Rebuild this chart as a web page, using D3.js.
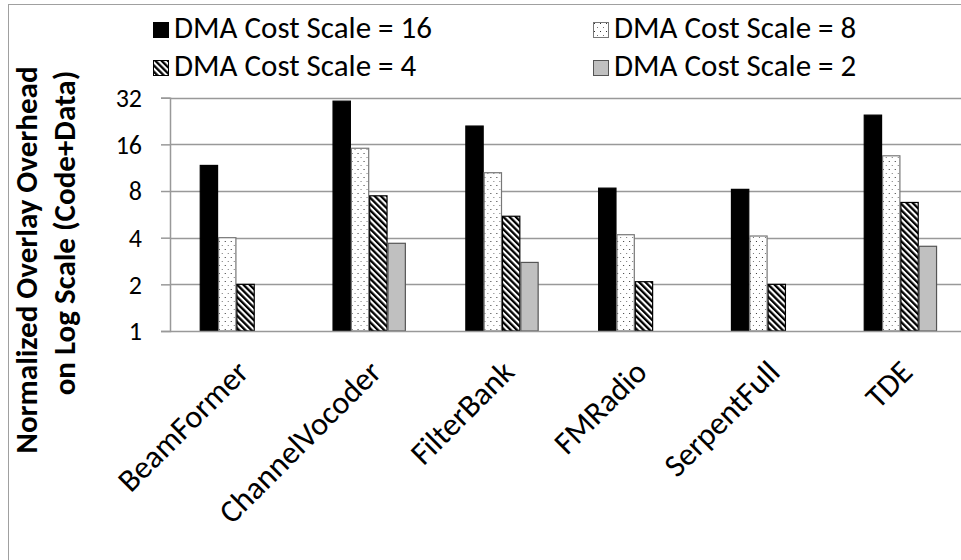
<!DOCTYPE html>
<html>
<head>
<meta charset="utf-8">
<script src="https://cdn.jsdelivr.net/npm/d3@7"></script>
<style>
  body { margin: 0; background: #fff; }
  text { font-family: Carlito, Calibri, "Open Sans", sans-serif; fill: #000; }
</style>
</head>
<body>
<div class="container"></div>
<script>
var categories = ["BeamFormer", "ChannelVocoder", "FilterBank", "FMRadio", "SerpentFull", "TDE"];
var seriesNames = ["DMA Cost Scale = 16", "DMA Cost Scale = 8", "DMA Cost Scale = 4", "DMA Cost Scale = 2"];
var scale16 = [11.7, 30.4, 21.0, 8.35, 8.2, 24.7];
var scale8  = [4.0, 15.1, 10.5, 4.18, 4.1, 13.5];
var scale4  = [2.0, 7.45, 5.5, 2.08, 2.0, 6.75];
var scale2  = [null, 3.68, 2.77, null, null, 3.52];
var yTicks  = [1, 2, 4, 8, 16, 32];

var loadChart = function(){
    var width = 961, height = 560;
    var left = 170, top = 97.7, bottom = 331, step = 132.8;

    var allSeries = [scale16, scale8, scale4, scale2];

    var svg = d3.select('.container')
                .append('svg')
                .attr('width', width)
                .attr('height', height);

    var defs = svg.append('defs');

    var dots = defs.append('pattern')
        .attr('id', 'dots')
        .attr('patternUnits', 'userSpaceOnUse')
        .attr('width', 6)
        .attr('height', 8);
    dots.append('rect').attr('width', 6).attr('height', 8).attr('fill', '#fff');
    dots.append('rect').attr('x', 1).attr('y', 1).attr('width', 1).attr('height', 1).attr('fill', '#333');
    dots.append('rect').attr('x', 4).attr('y', 5).attr('width', 1).attr('height', 1).attr('fill', '#777');

    var hatch = defs.append('pattern')
        .attr('id', 'hatch')
        .attr('patternUnits', 'userSpaceOnUse')
        .attr('width', 4.4)
        .attr('height', 4.4)
        .attr('patternTransform', 'rotate(-45)');
    hatch.append('rect').attr('width', 4.4).attr('height', 4.4).attr('fill', '#fff');
    hatch.append('rect').attr('x', 0).attr('width', 2.3).attr('height', 4.4).attr('fill', '#000');

    var fills = ['#000', 'url(#dots)', 'url(#hatch)', '#c0c0c0'];
    var strokes = ['#000', '#777', '#000', '#555'];

    // chart border (only the left and top edges are in view)
    svg.append('rect')
        .attr('x', 8.5).attr('y', 4.5)
        .attr('width', 1000).attr('height', 600)
        .attr('fill', 'none')
        .attr('stroke', '#a0a0a0');

    var x = d3.scaleBand()
        .domain(categories)
        .range([left, left + step * categories.length])
        .paddingInner(0.448)
        .paddingOuter(0.224);

    var xs = d3.scaleBand()
        .domain(d3.range(seriesNames.length))
        .range([0, x.bandwidth()]);

    var y = d3.scaleLog()
        .base(2)
        .domain([1, 32])
        .range([bottom, top]);

    // gridlines
    svg.append('g')
        .selectAll('line')
        .data(yTicks.slice(1))
        .enter()
        .append('line')
        .attr('x1', left).attr('x2', width)
        .attr('y1', function(d){ return Math.round(y(d)) + 0.5; })
        .attr('y2', function(d){ return Math.round(y(d)) + 0.5; })
        .attr('stroke', '#999')
        .attr('stroke-width', 1.5);

    // y axis
    var yAxis = svg.append('g')
        .attr('transform', 'translate(' + left + ',0)')
        .call(d3.axisLeft(y).tickValues(yTicks).tickFormat(d3.format('d')).tickSize(9).tickPadding(19));
    yAxis.attr('font-family', null).attr('font-size', null);
    yAxis.select('.domain').attr('stroke', '#999').attr('stroke-width', 1.5);
    yAxis.selectAll('.tick line').attr('stroke', '#999').attr('stroke-width', 1.5);
    yAxis.selectAll('.tick text')
        .attr('font-size', 26)
        .attr('fill', '#000')
        .attr('dy', '0.34em');

    // bars
    var groups = svg.append('g')
        .selectAll('g')
        .data(categories)
        .enter()
        .append('g')
        .attr('transform', function(d){ return 'translate(' + x(d) + ',0)'; });

    groups.selectAll('rect')
        .data(function(d, i){
            return allSeries.map(function(s, j){ return {s: j, v: s[i]}; })
                            .filter(function(e){ return e.v != null; });
        })
        .enter()
        .append('rect')
        .attr('x', function(d){ return xs(d.s) + 0.5; })
        .attr('y', function(d){ return y(d.v); })
        .attr('width', xs.bandwidth() - 1)
        .attr('height', function(d){ return bottom - y(d.v); })
        .attr('fill', function(d){ return fills[d.s]; })
        .attr('stroke', function(d){ return strokes[d.s]; })
        .attr('stroke-width', 1.2);

    // x axis line
    svg.append('line')
        .attr('x1', left).attr('x2', width)
        .attr('y1', bottom + 0.5).attr('y2', bottom + 0.5)
        .attr('stroke', '#999')
        .attr('stroke-width', 1.5);

    // x labels
    svg.append('g')
        .selectAll('text')
        .data(categories)
        .enter()
        .append('text')
        .attr('transform', function(d){
            return 'translate(' + (x(d) + x.bandwidth() / 2 + 14) + ',374) rotate(-45)';
        })
        .attr('text-anchor', 'end')
        .attr('font-size', 32)
        .text(function(d){ return d; });

    // y title
    var titleLines = [
        {t: 'Normalized Overlay Overhead', x: 37, y: 260},
        {t: 'on Log Scale (Code+Data)', x: 75, y: 233}
    ];
    svg.append('g')
        .selectAll('text')
        .data(titleLines)
        .enter()
        .append('text')
        .attr('transform', function(d){ return 'translate(' + d.x + ',' + d.y + ') rotate(-90)'; })
        .attr('text-anchor', 'middle')
        .attr('font-size', 31)
        .attr('font-weight', 'bold')
        .text(function(d){ return d.t; });

    // legend
    var legendPos = [[153, 22], [593, 22], [153, 60], [593, 60]];
    var legend = svg.append('g')
        .selectAll('g')
        .data(seriesNames)
        .enter()
        .append('g')
        .attr('transform', function(d, i){ return 'translate(' + legendPos[i][0] + ',' + legendPos[i][1] + ')'; });

    legend.append('rect')
        .attr('x', 0.5).attr('y', 0.5)
        .attr('width', 15).attr('height', 15)
        .attr('fill', function(d, i){ return fills[i]; })
        .attr('stroke', function(d, i){ return strokes[i]; })
        .attr('stroke-width', 1);

    legend.append('text')
        .attr('x', 21)
        .attr('y', 16)
        .attr('font-size', 31)
        .text(function(d){ return d; });
}
window.onload = loadChart;
</script>
</body>
</html>
